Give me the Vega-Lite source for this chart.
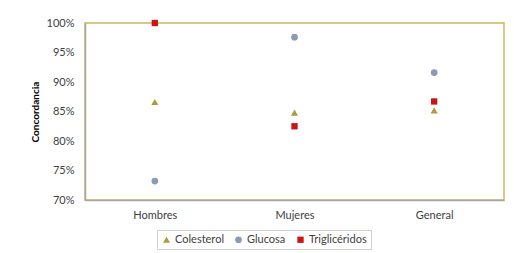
{
  "$schema": "https://vega.github.io/schema/vega-lite/v6.json",
  "autosize": {"type": "none"},
  "padding": {"left": 85, "top": 23, "right": 10, "bottom": 53},
  "width": 419,
  "height": 177,
  "background": "white",
  "data": {"values": [
    {"grupo": "Hombres", "serie": "Colesterol", "valor": 0.866},
    {"grupo": "Hombres", "serie": "Glucosa", "valor": 0.732},
    {"grupo": "Hombres", "serie": "Triglicéridos", "valor": 1.0},
    {"grupo": "Mujeres", "serie": "Colesterol", "valor": 0.848},
    {"grupo": "Mujeres", "serie": "Glucosa", "valor": 0.976},
    {"grupo": "Mujeres", "serie": "Triglicéridos", "valor": 0.825},
    {"grupo": "General", "serie": "Colesterol", "valor": 0.852},
    {"grupo": "General", "serie": "Glucosa", "valor": 0.916},
    {"grupo": "General", "serie": "Triglicéridos", "valor": 0.867}
  ]},
  "mark": {"type": "point", "filled": true, "opacity": 1},
  "encoding": {
    "x": {
      "field": "grupo", "type": "nominal", "sort": ["Hombres", "Mujeres", "General"],
      "scale": {"paddingInner": 0, "paddingOuter": 0},
      "axis": {"title": null, "labelAngle": 0, "ticks": false, "labelPadding": 9, "domainColor": "#a6a6a6", "domainWidth": 1.5, "grid": false, "zindex": 1}
    },
    "y": {
      "field": "valor", "type": "quantitative",
      "scale": {"domain": [0.7, 1.0], "nice": false, "zero": false},
      "axis": {"title": "Concordancia", "format": ".0%", "values": [0.7, 0.75, 0.8, 0.85, 0.9, 0.95, 1.0], "grid": false, "ticks": false, "labelPadding": 11, "domainColor": "#a6a6a6", "domainWidth": 1.5, "titleFontWeight": "bold", "titlePadding": 6, "titleFontSize": 10, "zindex": 1}
    },
    "color": {
      "field": "serie", "type": "nominal",
      "scale": {"domain": ["Colesterol", "Glucosa", "Triglicéridos"], "range": ["#b09a3a", "#8c9ab3", "#cc1414"]},
      "legend": {"title": null, "orient": "none", "legendX": 72, "legendY": 207, "direction": "horizontal", "strokeColor": "#d0d0d0", "padding": 4, "columnPadding": 9, "symbolSize": 36, "labelFontSize": 11, "labelOffset": 3}
    },
    "shape": {
      "field": "serie", "type": "nominal",
      "scale": {"domain": ["Colesterol", "Glucosa", "Triglicéridos"], "range": ["triangle-up", "circle", "square"]}
    },
    "size": {
      "field": "serie", "type": "nominal",
      "scale": {"domain": ["Colesterol", "Glucosa", "Triglicéridos"], "range": [50, 40, 50]},
      "legend": null
    }
  },
  "config": {
    "font": "Lato",
    "view": {"stroke": "#c9b95c", "strokeWidth": 1.5},
    "axis": {"labelFont": "Lato", "labelFontSize": 11, "labelColor": "#404040", "titleFont": "Lato", "titleColor": "#000000"},
    "legend": {"labelFont": "Lato", "labelColor": "#404040"}
  }
}
